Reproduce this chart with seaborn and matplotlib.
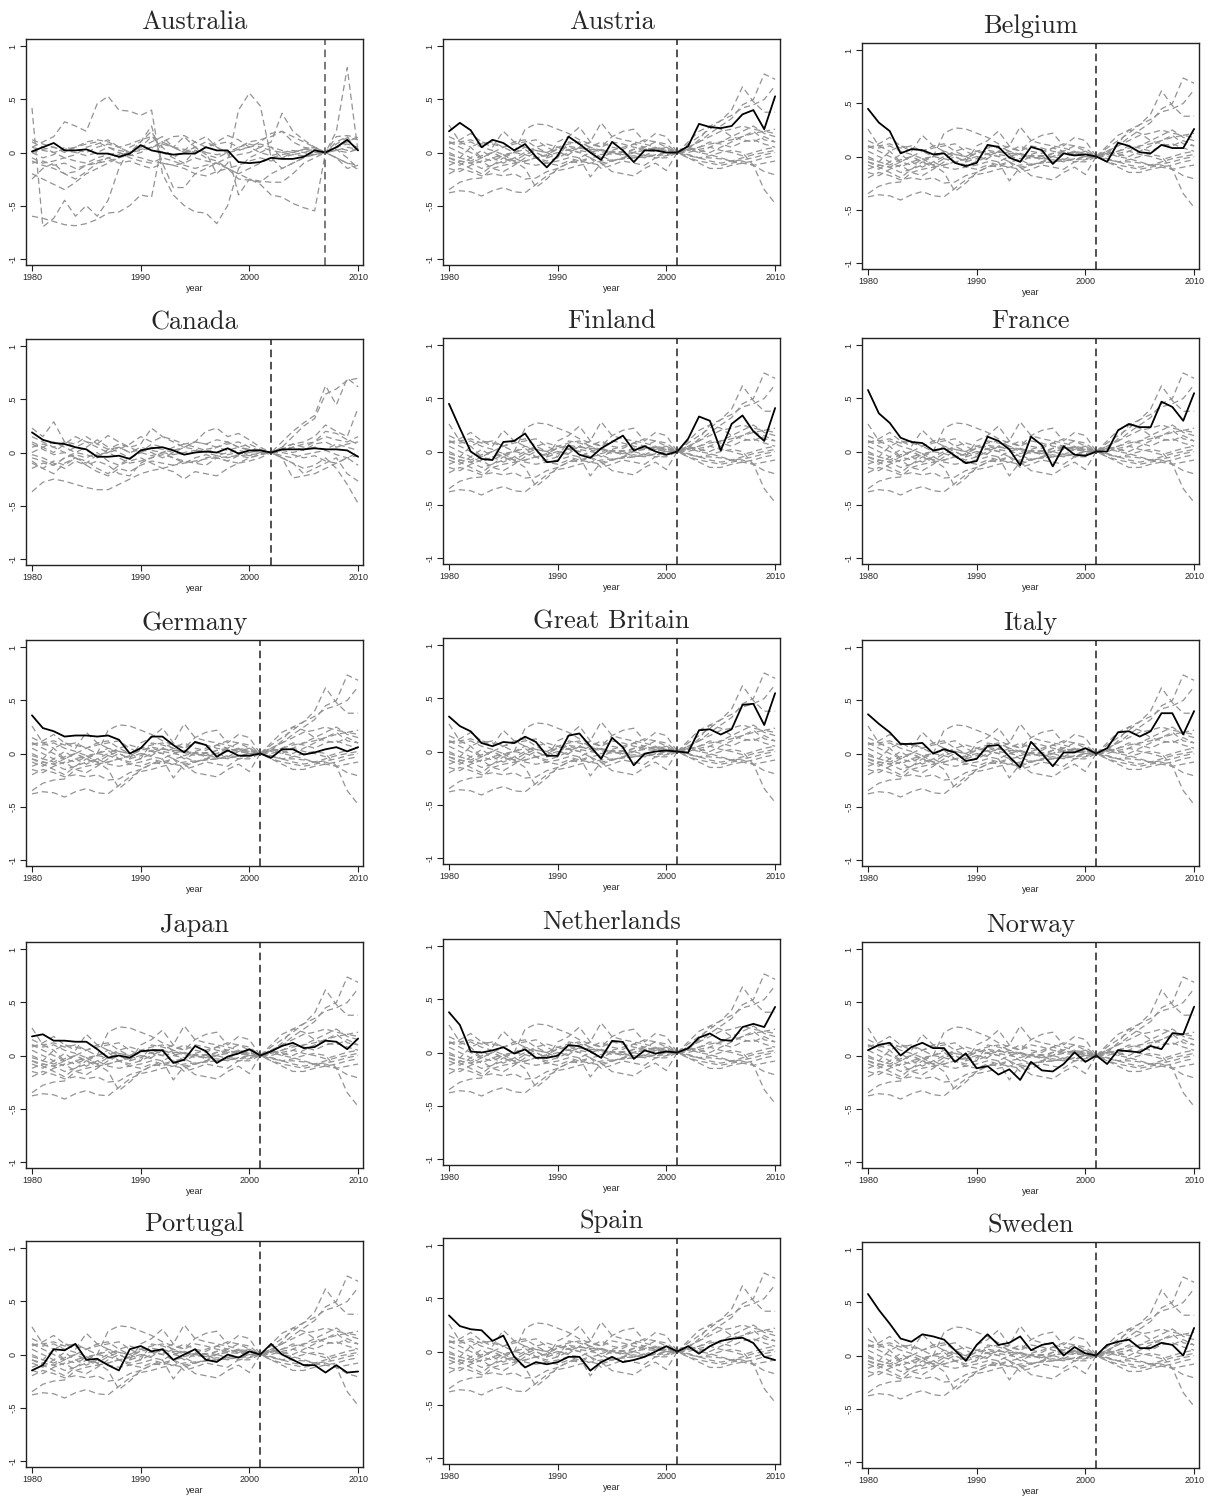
import numpy as np
import pandas as pd
import matplotlib
matplotlib.use("Agg")
import matplotlib.pyplot as plt
import seaborn as sns

years = list(range(1980, 2011))

countries = ["Australia", "Austria", "Belgium", "Canada", "Finland", "France",
             "Germany", "Great Britain", "Italy", "Japan", "Netherlands", "Norway",
             "Portugal", "Spain", "Sweden"]
treat_year = [2007, 2001, 2001, 2002, 2001, 2001, 2001, 2001, 2001, 2001, 2001, 2001,
              2001, 2001, 2001]

# Treated-unit gaps (one series per country, 1980-2010)
australia = [0.01, 0.05, 0.09, 0.02, 0.02, 0.03, -0.01, -0.01, -0.04, -0.01, 0.07, 0.02, 0.00,
             -0.02, -0.01, -0.01, 0.05, 0.02, 0.02, -0.09, -0.10, -0.09, -0.05, -0.06, -0.06,
             -0.04, 0.02, 0.00, 0.05, 0.12, 0.02]
austria = [0.20, 0.28, 0.21, 0.05, 0.12, 0.09, 0.02, 0.08, -0.04, -0.14, -0.03, 0.15, 0.08,
           0.00, -0.07, 0.10, 0.02, -0.09, 0.02, 0.02, 0.00, 0.00, 0.06, 0.27, 0.24, 0.23,
           0.25, 0.36, 0.40, 0.22, 0.53]
belgium = [0.45, 0.32, 0.24, 0.03, 0.07, 0.06, 0.02, 0.03, -0.06, -0.09, -0.06, 0.11, 0.09,
           -0.01, -0.05, 0.09, 0.06, -0.07, 0.03, 0.01, 0.02, 0.00, -0.05, 0.13, 0.10, 0.04,
           0.03, 0.11, 0.08, 0.08, 0.26]
canada = [0.19, 0.12, 0.09, 0.08, 0.05, 0.03, -0.04, -0.04, -0.03, -0.06, 0.02, 0.04, 0.05,
          0.02, -0.02, 0.00, 0.01, 0.00, 0.04, -0.01, 0.02, 0.02, 0.00, 0.03, 0.03, 0.03,
          0.04, 0.03, 0.03, 0.02, -0.04]
finland = [0.45, 0.22, 0.00, -0.07, -0.08, 0.09, 0.10, 0.17, 0.02, -0.10, -0.09, 0.06, -0.03,
           -0.06, 0.03, 0.09, 0.15, 0.01, 0.05, 0.00, -0.03, 0.00, 0.12, 0.33, 0.29, 0.01,
           0.26, 0.34, 0.19, 0.10, 0.41]
france = [0.58, 0.36, 0.27, 0.13, 0.09, 0.08, 0.01, 0.03, -0.04, -0.11, -0.09, 0.14, 0.10,
          0.02, -0.13, 0.14, 0.06, -0.14, 0.05, -0.03, -0.04, 0.00, 0.00, 0.20, 0.26, 0.23,
          0.23, 0.47, 0.42, 0.29, 0.55]
germany = [0.36, 0.24, 0.21, 0.16, 0.17, 0.17, 0.16, 0.17, 0.13, 0.00, 0.05, 0.16, 0.16,
           0.08, 0.01, 0.11, 0.08, -0.03, 0.03, -0.02, -0.02, 0.00, -0.04, 0.04, 0.04, -0.01,
           0.01, 0.04, 0.06, 0.02, 0.06]
great_britain = [0.33, 0.24, 0.19, 0.08, 0.05, 0.09, 0.08, 0.14, 0.09, -0.04, -0.04, 0.15,
                 0.17, 0.05, -0.07, 0.13, 0.04, -0.13, -0.02, 0.00, 0.01, 0.00, -0.01, 0.20,
                 0.21, 0.16, 0.21, 0.44, 0.45, 0.25, 0.55]
italy = [0.37, 0.28, 0.20, 0.09, 0.09, 0.10, 0.00, 0.04, 0.01, -0.07, -0.05, 0.07, 0.08,
         -0.03, -0.13, 0.11, 0.00, -0.12, 0.01, 0.01, 0.05, 0.00, 0.05, 0.20, 0.21, 0.16,
         0.21, 0.38, 0.38, 0.18, 0.40]
japan = [0.18, 0.20, 0.14, 0.14, 0.13, 0.13, 0.06, -0.02, 0.00, -0.02, 0.04, 0.05, 0.05,
         -0.07, -0.04, 0.09, 0.04, -0.07, -0.01, 0.02, 0.06, 0.00, 0.04, 0.09, 0.12, 0.07,
         0.08, 0.14, 0.13, 0.06, 0.16]
netherlands = [0.38, 0.26, 0.01, 0.00, 0.02, 0.05, -0.01, 0.03, -0.05, -0.05, -0.03, 0.07,
               0.06, 0.01, -0.05, 0.11, 0.10, -0.06, 0.02, -0.01, 0.01, 0.00, 0.04, 0.14,
               0.18, 0.12, 0.11, 0.24, 0.27, 0.24, 0.43]
norway = [0.05, 0.10, 0.12, 0.00, 0.08, 0.12, 0.07, 0.07, -0.06, 0.02, -0.12, -0.10, -0.18,
          -0.13, -0.23, -0.06, -0.14, -0.15, -0.08, 0.03, -0.06, 0.00, -0.08, 0.05, 0.04,
          0.03, 0.09, 0.06, 0.21, 0.20, 0.46]
portugal = [-0.15, -0.10, 0.05, 0.04, 0.10, -0.05, -0.04, -0.10, -0.15, 0.05, 0.08, 0.03,
            0.05, -0.05, 0.00, 0.05, -0.05, -0.07, 0.00, -0.03, 0.03, 0.00, 0.10, 0.00,
            -0.05, -0.10, -0.10, -0.17, -0.10, -0.17, -0.16]
spain = [0.34, 0.24, 0.21, 0.20, 0.10, 0.15, -0.05, -0.15, -0.10, -0.12, -0.10, -0.05, -0.05,
         -0.18, -0.10, -0.05, -0.10, -0.08, -0.05, 0.00, 0.05, 0.00, 0.05, -0.02, 0.05, 0.10,
         0.12, 0.13, 0.08, -0.05, -0.08]
sweden = [0.58, 0.43, 0.30, 0.16, 0.13, 0.20, 0.18, 0.15, 0.05, -0.05, 0.10, 0.20, 0.10,
          0.12, 0.18, 0.05, 0.10, 0.12, 0.00, 0.08, 0.02, 0.00, 0.10, 0.13, 0.15, 0.07, 0.07,
          0.12, 0.10, 0.00, 0.26]

treated = [australia, austria, belgium, canada, finland, france, germany, great_britain,
           italy, japan, netherlands, norway, portugal, spain, sweden]

# Placebo gaps, normalised at 2001
placebo_2001 = [
    [-0.38, -0.36, -0.37, -0.41, -0.36, -0.33, -0.37, -0.38, -0.30, -0.22, -0.17, -0.15, -0.12, -0.10, -0.08, -0.07, -0.06, -0.05, -0.04, -0.03, -0.02, 0.00, -0.02, -0.05, -0.03, 0.00, 0.02, 0.00, -0.12, -0.35, -0.48],
    [-0.35, -0.28, -0.25, -0.24, -0.15, -0.12, -0.10, -0.08, -0.05, -0.02, 0.03, 0.06, 0.04, 0.03, 0.02, 0.00, 0.01, 0.00, 0.02, 0.01, 0.02, 0.00, 0.08, 0.15, 0.22, 0.30, 0.35, 0.42, 0.45, 0.50, 0.63],
    [-0.20, -0.15, -0.18, -0.22, -0.20, -0.22, -0.20, -0.25, -0.24, -0.18, -0.15, -0.10, -0.08, -0.05, -0.10, -0.08, -0.06, -0.05, -0.02, -0.03, 0.00, 0.00, 0.05, 0.10, 0.18, 0.25, 0.32, 0.45, 0.50, 0.74, 0.69],
    [0.10, 0.05, 0.00, -0.05, -0.08, -0.03, 0.00, 0.05, 0.02, 0.00, 0.03, 0.05, 0.02, 0.00, -0.02, 0.01, 0.00, 0.03, 0.02, 0.05, 0.03, 0.00, 0.03, 0.12, 0.25, 0.30, 0.40, 0.62, 0.48, 0.38, 0.38],
    [0.26, 0.10, 0.05, -0.05, 0.00, 0.05, 0.08, 0.10, 0.12, 0.05, 0.00, -0.02, 0.05, 0.10, 0.28, 0.15, 0.12, 0.10, 0.08, 0.05, 0.00, 0.00, -0.05, -0.08, -0.10, -0.12, -0.10, -0.08, -0.12, -0.18, -0.21],
    [-0.05, -0.08, -0.10, -0.05, 0.00, -0.05, 0.00, 0.22, 0.27, 0.26, 0.22, 0.18, 0.12, 0.08, 0.05, 0.10, 0.08, 0.05, 0.03, 0.04, 0.02, 0.00, 0.05, 0.10, 0.15, 0.20, 0.22, 0.25, 0.22, 0.20, 0.22],
    [0.08, 0.12, 0.18, 0.10, 0.05, 0.20, 0.10, 0.05, 0.00, -0.05, 0.10, 0.15, 0.24, 0.10, 0.05, 0.15, 0.20, 0.22, 0.10, 0.18, 0.15, 0.00, -0.05, -0.10, -0.15, -0.15, -0.12, -0.10, -0.08, -0.05, -0.03],
    [-0.08, -0.12, -0.05, -0.10, -0.05, -0.02, -0.08, -0.15, -0.33, -0.25, -0.15, -0.10, -0.05, -0.23, -0.10, -0.18, -0.20, -0.22, -0.15, -0.10, -0.17, 0.00, 0.05, 0.00, 0.05, 0.10, 0.15, 0.12, 0.10, 0.15, 0.10],
    [0.00, -0.05, 0.05, 0.10, 0.08, 0.05, 0.10, 0.12, 0.05, 0.00, 0.05, 0.08, 0.10, 0.05, 0.00, 0.02, 0.05, 0.08, 0.05, 0.10, 0.08, 0.00, -0.02, -0.05, -0.05, -0.06, -0.08, -0.07, -0.05, -0.02, 0.00],
    [-0.12, -0.08, -0.10, -0.15, -0.12, -0.08, -0.05, -0.10, -0.12, -0.10, -0.08, -0.05, -0.08, -0.10, -0.12, -0.08, -0.05, -0.03, -0.05, -0.02, 0.00, 0.00, 0.02, 0.05, 0.08, 0.10, 0.12, 0.15, 0.18, 0.20, 0.18],
    [0.05, 0.00, -0.05, 0.02, -0.05, -0.10, -0.05, 0.00, 0.05, 0.08, 0.05, 0.02, 0.00, 0.05, 0.10, 0.05, 0.03, 0.08, 0.12, 0.10, 0.05, 0.00, 0.10, 0.20, 0.25, 0.22, 0.15, 0.20, 0.25, 0.18, 0.15],
    [-0.02, -0.05, -0.08, -0.03, 0.00, -0.05, -0.10, -0.08, -0.05, -0.10, -0.12, -0.08, -0.10, -0.05, -0.15, -0.12, -0.08, -0.10, -0.12, -0.05, -0.05, 0.00, -0.03, -0.05, -0.08, -0.10, -0.08, -0.05, -0.02, 0.00, 0.02],
    [0.15, 0.10, 0.12, 0.08, 0.10, 0.05, 0.00, -0.02, -0.05, -0.03, 0.00, -0.03, -0.05, 0.00, 0.03, 0.00, -0.02, 0.03, 0.05, 0.02, 0.03, 0.00, 0.02, 0.05, 0.10, 0.08, 0.05, 0.10, 0.12, 0.08, 0.05],
    [-0.05, -0.10, -0.15, -0.20, -0.12, -0.05, -0.08, -0.02, 0.02, 0.00, -0.05, 0.10, 0.08, 0.05, 0.02, -0.02, 0.00, -0.05, -0.03, -0.05, -0.03, 0.00, 0.03, 0.00, -0.02, -0.05, -0.08, -0.10, -0.12, -0.10, -0.08],
    [0.10, 0.08, 0.10, 0.05, 0.02, -0.02, 0.00, 0.03, -0.05, -0.08, -0.05, 0.00, 0.05, 0.02, -0.05, 0.00, -0.03, 0.00, -0.03, 0.02, 0.05, 0.00, 0.05, 0.02, 0.00, 0.05, 0.10, 0.15, 0.20, 0.12, 0.10],
    [-0.15, -0.18, -0.12, -0.08, -0.15, -0.18, -0.12, -0.05, 0.00, -0.05, -0.02, 0.03, 0.00, -0.05, -0.03, -0.08, -0.05, 0.00, 0.05, 0.02, 0.00, 0.00, 0.00, 0.03, 0.05, 0.02, 0.00, -0.03, 0.00, 0.03, 0.05],
]

# Placebo gaps, normalised at 2002
placebo_2002 = [
    [-0.37, -0.28, -0.25, -0.27, -0.30, -0.33, -0.35, -0.35, -0.30, -0.25, -0.20, -0.17, -0.15, -0.12, -0.10, -0.08, -0.06, -0.05, -0.04, -0.03, -0.02, -0.01, 0.00, -0.05, -0.10, -0.15, -0.12, -0.05, -0.15, -0.30, -0.48],
    [0.23, 0.15, 0.29, 0.10, 0.05, 0.10, 0.08, 0.16, 0.10, 0.05, 0.08, 0.23, 0.15, 0.10, 0.05, 0.10, 0.08, 0.12, 0.10, 0.05, 0.03, 0.02, 0.00, 0.10, 0.20, 0.28, 0.35, 0.63, 0.45, 0.70, 0.62],
    [-0.15, -0.10, -0.12, -0.05, -0.02, -0.05, 0.00, -0.08, -0.12, -0.05, 0.00, 0.05, 0.03, 0.00, -0.02, 0.00, 0.03, 0.05, 0.08, 0.10, 0.05, 0.02, 0.00, 0.05, 0.15, 0.25, 0.32, 0.55, 0.60, 0.68, 0.70],
    [0.05, 0.08, 0.05, 0.00, -0.05, -0.08, -0.15, -0.20, -0.12, -0.08, -0.05, -0.10, -0.15, -0.18, -0.25, -0.18, -0.20, -0.22, -0.15, -0.10, -0.08, -0.05, 0.00, -0.05, -0.24, -0.22, -0.20, -0.15, -0.10, -0.05, 0.00],
    [0.10, 0.05, 0.00, 0.08, 0.15, 0.10, 0.05, 0.00, 0.03, 0.08, 0.15, 0.10, 0.15, 0.12, 0.08, 0.10, 0.20, 0.23, 0.15, 0.18, 0.12, 0.05, 0.00, 0.05, 0.08, 0.10, 0.15, 0.26, 0.20, 0.15, 0.42],
    [-0.10, -0.15, -0.08, -0.12, -0.05, -0.10, -0.02, 0.00, -0.05, -0.10, -0.08, -0.05, -0.02, -0.05, -0.08, -0.10, -0.05, -0.03, -0.05, -0.02, 0.00, 0.02, 0.00, -0.05, -0.10, -0.20, -0.15, -0.10, -0.05, -0.20, -0.27],
    [0.00, 0.05, 0.10, 0.05, 0.00, 0.05, 0.12, 0.05, 0.00, -0.05, 0.00, 0.08, 0.05, 0.02, 0.05, 0.10, 0.08, 0.05, 0.02, 0.05, 0.08, 0.03, 0.00, 0.02, 0.05, 0.08, 0.10, 0.15, 0.12, 0.10, 0.15],
    [-0.05, -0.08, -0.12, -0.05, 0.00, -0.02, -0.05, 0.03, 0.08, 0.05, 0.00, -0.03, 0.00, 0.05, 0.08, 0.05, 0.02, 0.00, -0.02, 0.00, -0.03, 0.00, 0.00, -0.03, -0.05, -0.02, 0.00, 0.02, -0.02, -0.05, -0.03],
    [0.15, 0.10, 0.05, 0.10, 0.08, 0.15, 0.08, 0.03, 0.05, 0.00, 0.03, 0.00, -0.05, 0.00, 0.05, 0.03, 0.00, 0.05, 0.10, 0.05, 0.02, 0.00, 0.00, 0.02, 0.00, 0.03, 0.05, 0.03, 0.08, 0.05, 0.02],
    [-0.02, -0.05, -0.10, -0.15, -0.08, -0.12, -0.18, -0.22, -0.15, -0.18, -0.12, -0.08, -0.10, -0.12, -0.08, -0.10, -0.12, -0.05, -0.08, -0.03, -0.05, -0.02, 0.00, 0.00, -0.02, -0.05, -0.03, -0.08, -0.10, -0.05, -0.12],
    [0.08, 0.03, -0.02, 0.00, 0.05, 0.02, -0.03, 0.00, 0.05, 0.00, 0.05, 0.02, 0.00, -0.02, 0.00, 0.02, 0.00, -0.03, 0.00, 0.02, 0.00, 0.02, 0.00, 0.03, 0.05, 0.02, 0.08, 0.10, 0.05, 0.08, 0.10],
    [-0.08, -0.15, -0.20, -0.10, -0.05, -0.12, -0.08, -0.12, -0.20, -0.22, -0.10, -0.05, 0.00, -0.05, -0.10, -0.05, -0.02, -0.05, -0.08, -0.10, -0.05, -0.02, 0.00, 0.03, 0.08, 0.05, 0.10, 0.20, 0.18, 0.12, 0.08],
]

# Placebo gaps, normalised at 2007
placebo_2007 = [
    [0.42, -0.70, -0.62, -0.45, -0.60, -0.50, -0.60, -0.45, -0.15, 0.05, 0.10, 0.20, 0.00, -0.05, -0.10, 0.02, -0.05, -0.08, -0.15, -0.20, -0.15, -0.10, -0.05, -0.02, 0.00, 0.03, 0.05, 0.00, -0.05, -0.15, -0.12],
    [-0.60, -0.62, -0.65, -0.68, -0.69, -0.67, -0.63, -0.57, -0.56, -0.50, -0.40, -0.42, 0.10, 0.05, 0.00, 0.05, -0.02, -0.05, 0.00, 0.02, 0.05, 0.08, 0.05, 0.02, 0.00, 0.03, 0.02, 0.00, 0.05, 0.08, 0.05],
    [0.05, 0.10, 0.15, 0.29, 0.25, 0.20, 0.46, 0.53, 0.40, 0.39, 0.35, 0.40, -0.20, -0.40, -0.50, -0.56, -0.57, -0.67, -0.50, -0.15, -0.05, 0.00, 0.05, -0.05, 0.00, 0.03, 0.05, 0.00, -0.05, -0.10, -0.12],
    [-0.20, -0.25, -0.30, -0.35, -0.28, -0.20, -0.15, -0.10, -0.05, 0.00, 0.05, 0.15, 0.10, 0.05, 0.15, 0.05, 0.00, -0.20, -0.10, 0.40, 0.56, 0.44, -0.05, -0.15, -0.10, -0.05, 0.00, 0.00, 0.05, 0.10, 0.15],
    [0.00, -0.05, -0.02, 0.05, 0.03, 0.00, 0.05, 0.08, 0.05, 0.00, 0.02, 0.05, 0.08, 0.05, 0.03, 0.00, 0.05, 0.08, 0.10, 0.05, 0.08, 0.05, 0.10, 0.37, 0.20, 0.12, 0.05, 0.00, 0.20, 0.80, 0.00],
    [-0.10, -0.08, -0.12, -0.10, -0.15, -0.12, -0.10, -0.08, -0.05, -0.02, -0.05, -0.08, -0.10, -0.12, -0.10, -0.05, -0.08, -0.10, -0.15, -0.20, -0.25, -0.30, -0.40, -0.42, -0.48, -0.52, -0.55, 0.00, 0.05, 0.02, 0.03],
    [0.10, 0.05, 0.00, -0.05, -0.02, 0.05, 0.08, 0.12, 0.05, 0.00, 0.05, 0.10, 0.15, 0.05, 0.00, 0.05, 0.10, 0.05, 0.00, -0.40, -0.25, -0.27, -0.28, -0.28, -0.20, -0.10, -0.05, 0.00, 0.03, -0.05, -0.15],
    [-0.25, -0.15, -0.10, -0.20, -0.25, -0.18, -0.10, -0.05, -0.02, 0.00, 0.10, 0.25, -0.10, -0.33, -0.33, -0.20, -0.15, -0.10, -0.05, -0.02, 0.00, 0.05, 0.02, 0.00, -0.02, 0.00, 0.03, 0.00, 0.15, 0.16, 0.14],
    [0.05, 0.02, 0.00, 0.03, 0.05, 0.08, 0.10, 0.05, 0.00, -0.03, 0.00, 0.05, 0.10, 0.15, 0.16, 0.10, 0.05, 0.10, 0.16, 0.12, 0.05, 0.10, 0.18, 0.20, 0.15, 0.10, 0.05, 0.00, -0.05, -0.10, -0.16],
    [-0.05, -0.10, -0.08, -0.05, -0.08, -0.10, -0.05, -0.02, 0.00, -0.05, -0.08, -0.10, -0.05, -0.08, -0.12, -0.15, -0.12, -0.10, -0.15, -0.12, -0.08, -0.05, -0.08, -0.05, -0.02, -0.03, -0.02, 0.00, 0.02, 0.05, 0.03],
    [0.00, 0.03, 0.05, 0.02, 0.00, -0.03, 0.00, 0.05, 0.02, 0.00, 0.03, 0.05, 0.00, -0.03, 0.00, 0.02, 0.00, -0.02, 0.00, 0.03, 0.05, 0.00, -0.03, 0.00, 0.02, 0.00, -0.02, 0.00, 0.02, 0.00, 0.03],
    [-0.08, -0.12, -0.15, -0.20, -0.18, -0.12, -0.08, -0.05, -0.10, -0.08, -0.12, -0.15, -0.10, -0.12, -0.15, -0.20, -0.22, -0.18, -0.15, -0.25, -0.26, -0.28, -0.20, -0.15, -0.10, -0.05, -0.02, 0.00, 0.08, 0.14, 0.12],
    [0.12, 0.08, 0.05, 0.00, 0.05, 0.10, 0.12, 0.10, 0.05, 0.08, 0.12, 0.15, 0.05, -0.05, 0.02, 0.10, 0.15, 0.05, 0.00, 0.05, 0.10, 0.12, 0.15, 0.20, 0.10, 0.05, 0.03, 0.00, 0.10, 0.15, 0.00],
]

placebos = {2001: placebo_2001, 2002: placebo_2002, 2007: placebo_2007}

# Axes boxes in pixels: (left, top)
boxes = [(26, 39), (443, 39), (862, 43),
         (26, 339), (443, 338), (862, 338),
         (26, 640), (443, 638), (862, 640),
         (26, 942), (443, 939), (862, 942),
         (26, 1241), (443, 1238), (862, 1242)]
W, H = 1216, 1497
aw, ah = 337, 226

sns.set_style("ticks")
plt.rcParams["font.family"] = ["Liberation Sans", "DejaVu Sans"]

fig = plt.figure(figsize=(W / 100, H / 100), dpi=100)

for i, name in enumerate(countries):
    left, top = boxes[i]
    ax = fig.add_axes([left / W, 1 - (top + ah) / H, aw / W, ah / H])
    ty = treat_year[i]

    rows = []
    for k, ser in enumerate(placebos[ty]):
        for y, v in zip(years, ser):
            rows.append({"year": y, "gap": v, "unit": k})
    gray_df = pd.DataFrame(rows)
    sns.lineplot(data=gray_df, x="year", y="gap", units="unit", estimator=None,
                 color="#939393", linewidth=0.9, linestyle=(0, (5, 3)), ax=ax,
                 legend=False)

    treat_df = pd.DataFrame({"year": years, "gap": treated[i]})
    sns.lineplot(data=treat_df, x="year", y="gap", color="black", linewidth=1.3,
                 ax=ax, legend=False)

    vcol = "#555555" if ty == 2007 else "#222222"
    ax.axvline(ty, color=vcol, linewidth=1.1, linestyle=(0, (5, 3)))

    ax.set_xlim(1979.45, 2010.45)
    ax.set_ylim(-1.06, 1.07)
    ax.set_xticks([1980, 1990, 2000, 2010])
    ax.set_xticklabels(["1980", "1990", "2000", "2010"], fontsize=6.5)
    ax.set_yticks([-1, -0.5, 0, 0.5, 1])
    ax.set_yticklabels(["-1", "-.5", "0", ".5", "1"], fontsize=6.5, rotation=90,
                       va="center")
    ax.tick_params(axis="both", length=4, width=0.8, color="#222222", pad=2)
    ax.set_xlabel("year", fontsize=6.5, labelpad=1)
    ax.set_ylabel("")
    for sp in ax.spines.values():
        sp.set_visible(True)
        sp.set_linewidth(1.0)
        sp.set_color("#222222")
    ax.set_title(name, fontsize=19, family="cmr10", pad=7)

fig.savefig("out.png", dpi=100)
